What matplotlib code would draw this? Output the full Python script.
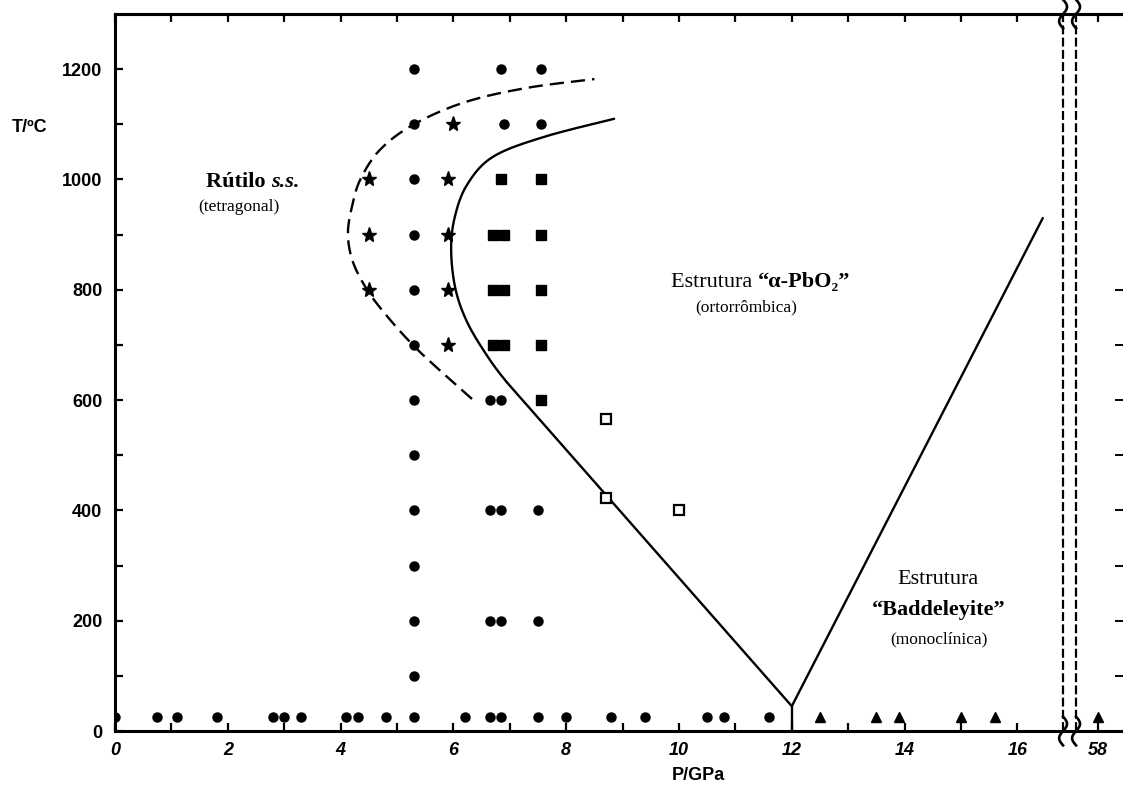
import numpy as np
import matplotlib
matplotlib.use("Agg")
import matplotlib.pyplot as plt

# ---- data (P em GPa, T em °C) ----
T_AMB = 25
amb_dot_p = [0, 0.75, 1.1, 1.8, 2.8, 3.0, 3.3, 4.1, 4.3, 4.8, 5.3, 6.2, 6.65, 6.85,
             7.5, 8.0, 8.8, 9.4, 10.5, 10.8, 11.6]
amb_tri_p = [12.5, 13.5, 13.9, 15.0, 15.6, 58]

dot_p = [5.3] * 12 + [6.85, 7.55, 6.9, 7.55, 6.65, 6.85, 6.65, 6.85, 7.5, 6.65, 6.85, 7.5]
dot_t = [1200, 1100, 1000, 900, 800, 700, 600, 500, 400, 300, 200, 100,
         1200, 1200, 1100, 1100, 600, 600, 400, 400, 400, 200, 200, 200]

star_p = [4.5, 4.5, 4.5, 6.0, 5.9, 5.9, 5.9, 5.9]
star_t = [1000, 900, 800, 1100, 1000, 900, 800, 700]

sq_p = [6.85, 7.55, 6.7, 6.9, 7.55, 6.7, 6.9, 7.55, 6.7, 6.9, 7.55, 7.55]
sq_t = [1000, 1000, 900, 900, 900, 800, 800, 800, 700, 700, 700, 600]

open_p = [8.7, 8.7, 10.0]
open_t = [565, 422, 400]

# fronteiras
rut_p = [6.33, 5.8, 5.28, 4.8, 4.47, 4.22, 4.13, 4.2, 4.35, 4.7, 5.3, 6.2, 7.3, 8.5]
rut_t = [602, 650, 700, 755, 800, 850, 900, 950, 1000, 1054, 1100, 1140, 1166, 1182]
apb_line_p = [12.0, 6.95]
apb_line_t = [45, 632]
apb_p = [6.95, 6.6, 6.25, 6.04, 5.96, 6.02, 6.24, 6.7, 7.6, 8.85]
apb_t = [632, 680, 740, 800, 870, 930, 990, 1041, 1077, 1110]
bad_p = [12.0, 16.45]
bad_t = [45, 930]
tp_p = [12.0, 12.0]
tp_t = [45, 0]

x_major = [0, 2, 4, 6, 8, 10, 12, 14, 16]
x_minor = [1, 3, 5, 7, 9, 11, 13, 15]
y_major = [0, 200, 400, 600, 800, 1000, 1200]
y_minor = [100, 300, 500, 700, 900, 1100]
right_ticks = [100, 200, 300, 400, 500, 600, 700, 800]

BREAK_A, BREAK_B = 16.81, 17.04
P_HIGH = 58


def pos(p):
    # eixo interrompido: 58 GPa fica logo depois da quebra
    p = np.asarray(p, dtype=float)
    return np.where(p > 17, 17.43 + (p - P_HIGH) * 0.05, p)


def smooth(xs, ys, n=20, lead=None):
    # Catmull-Rom só para desenhar a curva suave entre os pontos lidos
    P = np.column_stack([xs, ys]).astype(float)
    first = np.asarray(lead, float) if lead is not None else P[0]
    P = np.vstack([first, P, P[-1]])
    out = []
    for i in range(1, len(P) - 2):
        p0, p1, p2, p3 = P[i - 1], P[i], P[i + 1], P[i + 2]
        for t in np.linspace(0, 1, n, endpoint=False):
            out.append(0.5 * ((2 * p1) + (-p0 + p2) * t + (2 * p0 - 5 * p1 + 4 * p2 - p3) * t**2
                              + (-p0 + 3 * p1 - 3 * p2 + p3) * t**3))
    out.append(P[-2])
    out = np.array(out)
    return out[:, 0], out[:, 1]


SANS = ["Liberation Sans", "DejaVu Sans"]
SERIF = ["Liberation Serif", "DejaVu Serif"]

fig = plt.figure(figsize=(11.23, 7.87), dpi=100)
ax = fig.add_axes([115 / 1123, 56 / 787, 1010 / 1123, 717 / 787])
ax.set_xlim(0, 1010 / 56.4)
ax.set_ylim(0, 1300)

k = dict(color="black", lw=1.7, solid_capstyle="round")
ax.plot(*smooth(rut_p, rut_t), ls=(0, (6, 3)), **k)
# trecho reto desde o ponto triplo + curva
ax.plot(apb_line_p, apb_line_t, **k)
ax.plot(*smooth(apb_p, apb_t, lead=(7.5, 568)), **k)
ax.plot(bad_p, bad_t, **k)
ax.plot(tp_p, tp_t, **k)

ax.plot(pos(amb_dot_p), [T_AMB] * len(amb_dot_p), "o", color="black", ms=6.5, ls="none")
ax.plot(pos(amb_tri_p), [T_AMB] * len(amb_tri_p), "^", color="black", ms=7, ls="none")
ax.plot(dot_p, dot_t, "o", color="black", ms=6.5, ls="none")
ax.plot(star_p, star_t, "*", color="black", ms=11, ls="none")
ax.plot(sq_p, sq_t, "s", color="black", ms=7, ls="none")
ax.plot(open_p, open_t, "s", mfc="white", mec="black", mew=1.6, ms=6.5, ls="none")

# quebra do eixo
for xb in (BREAK_A, BREAK_B):
    ax.axvline(xb, color="black", lw=1.6, ls=(0, (4, 1.5)))
    yy = np.linspace(-0.02, 0.02, 30)
    for y0 in (0, 1):
        ax.plot(xb + 0.07 * np.sin(np.pi * yy / 0.02), y0 + yy, color="black", lw=1.9,
                transform=ax.get_xaxis_transform(), clip_on=False)

for s in ax.spines.values():
    s.set_linewidth(2.2)
ax.spines["right"].set_visible(False)

ax.set_xticks(list(x_major) + [float(pos(P_HIGH))])
ax.set_xticklabels([str(v) for v in x_major] + [str(P_HIGH)])
ax.set_xticks(x_minor, minor=True)
ax.set_yticks(y_major)
ax.set_yticks(y_minor, minor=True)
ax.tick_params(axis="both", which="both", direction="in", length=6, width=1.6)
ax.tick_params(axis="x", pad=8)
ax.tick_params(axis="y", pad=9)
for lab in ax.get_xticklabels():
    lab.set_family(SANS); lab.set_weight("bold"); lab.set_style("italic"); lab.set_size(13)
for lab in ax.get_yticklabels():
    lab.set_family(SANS); lab.set_weight("bold"); lab.set_size(13)

top = ax.secondary_xaxis("top")
top.set_xticks(list(x_major) + x_minor + [float(pos(P_HIGH))])
top.tick_params(direction="in", length=6, width=1.6, labeltop=False)
top.spines["top"].set_linewidth(2.2)

right = ax.secondary_yaxis("right")
right.set_yticks(right_ticks)
right.tick_params(direction="in", length=7, width=1.4, labelright=False)
right.spines["right"].set_visible(False)

fig.text(30 / 1123, 1 - 128 / 787, "T/ºC", family=SANS, weight="bold", size=13,
         ha="center", va="center")
fig.text(698 / 1123, 1 - 775 / 787, "P/GPa", family=SANS, size=13, weight="bold",
         ha="center", va="center")

# rótulos das fases
ax.text(2.77, 995, "Rútilo ", family=SERIF, weight="bold", size=16, ha="right", va="center")
ax.text(2.77, 995, "s.s.", family=SERIF, weight="bold", style="italic", size=16,
        ha="left", va="center")
ax.text(2.2, 950, "(tetragonal)", family=SERIF, size=12.5, ha="center", va="center")

ax.text(11.4, 814, "Estrutura ", family=SERIF, size=16, ha="right", va="center")
ax.text(11.4, 814, "\u201c\u03b1-PbO\u2082\u201d", family=SERIF, weight="bold", size=16,
        ha="left", va="center")
ax.text(11.2, 768, "(ortorrômbica)", family=SERIF, size=12.5, ha="center", va="center")

ax.text(14.6, 275, "Estrutura", family=SERIF, size=16, ha="center", va="center")
ax.text(14.6, 220, "\u201cBaddeleyite\u201d", family=SERIF, weight="bold", size=16,
        ha="center", va="center")
ax.text(14.6, 167, "(monoclínica)", family=SERIF, size=12.5, ha="center", va="center")

fig.savefig("out.png", dpi=100)
